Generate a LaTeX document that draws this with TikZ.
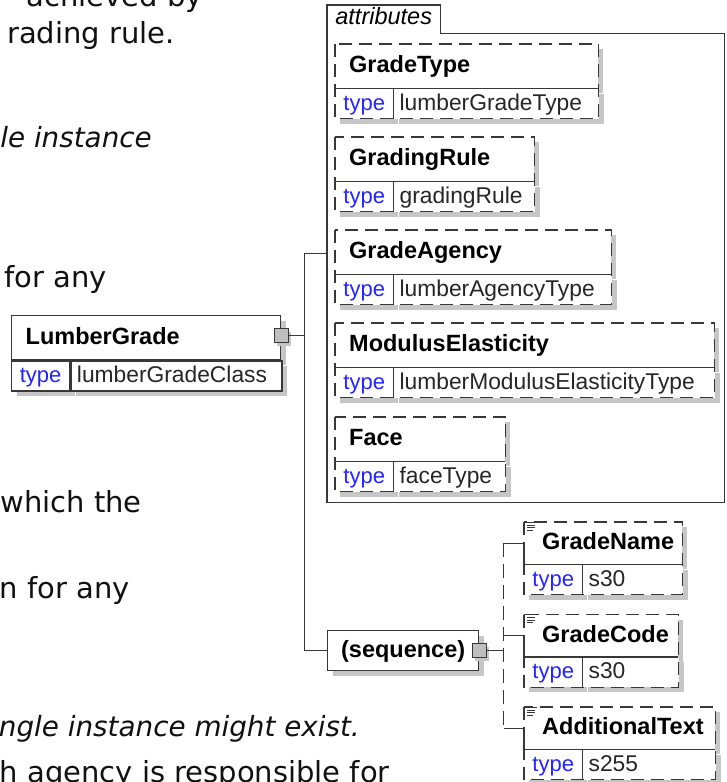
\documentclass[tikz,border=0pt]{standalone}
\usepackage{fontspec}
\usetikzlibrary{shadows}
\newfontfamily\diagfont{Liberation Sans}
\newfontfamily\pagefont{DejaVu Sans}
\definecolor{LineGrey}{HTML}{383838}
\definecolor{ShadowGrey}{HTML}{C6C6C6}
\definecolor{HubGrey}{HTML}{BEBEBE}
\definecolor{TypeBlue}{HTML}{2424FF}
\definecolor{TypeText}{HTML}{262626}
\definecolor{PageText}{HTML}{111111}

\begin{document}
\begin{tikzpicture}[x=1pt, y=-1pt,
    pagetext/.style={anchor=base east, inner sep=0pt, text=PageText, font=\pagefont\fontsize{29}{35}\selectfont},
    pageitalic/.style={pagetext, font=\pagefont\fontsize{27.8}{33}\selectfont\itshape},
    boxshadow/.style={drop shadow={shadow xshift=5pt, shadow yshift=-5pt, fill=ShadowGrey, opacity=1}},
    boxline/.style={draw=LineGrey, line width=1.3pt},
    optborder/.style={boxline, dash pattern=on 13pt off 7pt},
    elemhead/.style={boxshadow, fill=white, anchor=north west, inner xsep=14pt, inner ysep=0pt, minimum height=44pt, align=left, text height=16pt, text depth=3pt, font=\diagfont\fontsize{23.5}{27}\selectfont\bfseries},
    childhead/.style={elemhead, inner xsep=18pt, minimum height=42pt},
    typelabel/.style={boxshadow, fill=white, anchor=north west, inner sep=0pt, minimum width=58pt, minimum height=30pt, text height=16pt, text depth=3pt, text=TypeBlue, font=\diagfont\fontsize{22}{26}\selectfont},
    typevalue/.style={boxshadow, fill=white, anchor=north west, inner xsep=6pt, inner ysep=0pt, minimum height=30pt, align=left, text height=16pt, text depth=3pt, text=TypeText, font=\diagfont\fontsize{22.8}{26}\selectfont},
    solidbox/.style={boxline},
    seqbox/.style={boxshadow, fill=white, boxline, anchor=north west, minimum width=151pt, minimum height=40pt, text height=16pt, text depth=3pt, font=\diagfont\fontsize{23.5}{27}\selectfont\bfseries},
    hubsq/.style={drop shadow={shadow xshift=3pt, shadow yshift=-3pt, fill=ShadowGrey, opacity=1}, fill=HubGrey, draw=LineGrey, line width=1pt, minimum size=14pt, inner sep=0pt},
    attrtab/.style={anchor=north west, inner sep=0pt, minimum width=113pt, minimum height=28pt, text height=15pt, text depth=4pt, font=\diagfont\fontsize{23.5}{27}\selectfont\itshape},
    link/.style={draw=LineGrey, line width=1.3pt},
    iconline/.style={draw=LineGrey, line width=0.9pt}
]

\useasboundingbox (0,0) rectangle (726,782);
\clip (0,0) rectangle (726,782);

% text of the page behind the diagram
\node[pagetext] (note1) at (203,6) {achieved by};
\node[pagetext] (note2) at (175,43) {rading rule.};
\node[pageitalic] (note3) at (152,147) {le instance};
\node[pagetext] (note4) at (107,287) {for any};
\node[pagetext] (note5) at (142,512) {which the};
\node[pagetext] (note6) at (130,598) {n for any};
\node[pageitalic] (note7) at (360,736) {ngle instance might exist.};
\node[pagetext] (note8) at (390,782) {h agency is responsible for};

% attributes frame
\node[anchor=north west, inner sep=0pt, minimum width=397pt, minimum height=497pt] (attrs) at (327,5) {};
\node[attrtab] (attrtab) at (attrs.north west) {attributes};
\draw[boxline] (attrs.south west) -- (attrs.north west) -- (attrtab.north east) -- (attrtab.south east)
    -- (attrtab.south east -| attrs.east) -- (attrs.south east) -- cycle;

\node[elemhead, text width=235pt] (gtype) at (335,44) {GradeType};
\node[typelabel] (gtypet) at (gtype.south west) {type};
\node[typevalue, text width=193pt] (gtypev) at (gtypet.north east) {lumberGradeType};
\draw[optborder] (gtype.north west) rectangle (gtypev.south east);
\draw[boxline] (gtype.south west) -- (gtype.south east) (gtypet.north east) -- (gtypet.south east);

\node[elemhead, text width=171pt] (grule) at (335,137) {GradingRule};
\node[typelabel] (grulet) at (grule.south west) {type};
\node[typevalue, text width=129pt] (grulev) at (grulet.north east) {gradingRule};
\draw[optborder] (grule.north west) rectangle (grulev.south east);
\draw[boxline] (grule.south west) -- (grule.south east) (grulet.north east) -- (grulet.south east);

\node[elemhead, text width=248pt] (gagency) at (335,230) {GradeAgency};
\node[typelabel] (gagencyt) at (gagency.south west) {type};
\node[typevalue, text width=206pt] (gagencyv) at (gagencyt.north east) {lumberAgencyType};
\draw[optborder] (gagency.north west) rectangle (gagencyv.south east);
\draw[boxline] (gagency.south west) -- (gagency.south east) (gagencyt.north east) -- (gagencyt.south east);

\node[elemhead, text width=351pt] (modulus) at (335,323) {ModulusElasticity};
\node[typelabel] (modulust) at (modulus.south west) {type};
\node[typevalue, text width=309pt] (modulusv) at (modulust.north east) {lumberModulusElasticityType};
\draw[optborder] (modulus.north west) rectangle (modulusv.south east);
\draw[boxline] (modulus.south west) -- (modulus.south east) (modulust.north east) -- (modulust.south east);

\node[elemhead, text width=142pt] (face) at (335,417) {Face};
\node[typelabel] (facet) at (face.south west) {type};
\node[typevalue, text width=100pt] (facev) at (facet.north east) {faceType};
\draw[optborder] (face.north west) rectangle (facev.south east);
\draw[boxline] (face.south west) -- (face.south east) (facet.north east) -- (facet.south east);

% root element
\node[elemhead, solidbox, text width=241pt] (lgrade) at (11,315) {LumberGrade};
\node[typelabel, solidbox] (lgradet) at (lgrade.south west) {type};
\node[typevalue, solidbox, text width=199pt] (lgradev) at (lgradet.north east) {lumberGradeClass};
\node[hubsq] (lgsq) at ([yshift=2pt]lgrade.east) {};

% sequence
\node[seqbox] (seq) at (327,630) {(sequence)};
\node[hubsq] (seqsq) at (seq.east) {};

\node[childhead, text width=122pt] (gname) at (524,522) {GradeName};
\node[typelabel] (gnamet) at (gname.south west) {type};
\node[typevalue, text width=88pt] (gnamev) at (gnamet.north east) {s30};
\draw[optborder] (gname.north west) rectangle (gnamev.south east);
\draw[boxline] (gname.south west) -- (gname.south east) (gnamet.north east) -- (gnamet.south east);

\node[childhead, text width=118pt] (gcode) at (524,614.5) {GradeCode};
\node[typelabel] (gcodet) at (gcode.south west) {type};
\node[typevalue, text width=84pt] (gcodev) at (gcodet.north east) {s30};
\draw[optborder] (gcode.north west) rectangle (gcodev.south east);
\draw[boxline] (gcode.south west) -- (gcode.south east) (gcodet.north east) -- (gcodet.south east);

\node[childhead, text width=155pt] (atext) at (524,707) {AdditionalText};
\node[typelabel] (atextt) at (atext.south west) {type};
\node[typevalue, text width=121pt] (atextv) at (atextt.north east) {s255};
\draw[optborder] (atext.north west) rectangle (atextv.south east);
\draw[boxline] (atext.south west) -- (atext.south east) (atextt.north east) -- (atextt.south east);

% documentation marks
\draw[iconline] (gname.north west) -- ++(13,0) (gname.north west) -- ++(0,8)
    ([shift={(3,3)}]gname.north west) -- ++(8,0) ([shift={(3,5.5)}]gname.north west) -- ++(8,0) ([shift={(3,8)}]gname.north west) -- ++(6,0);
\draw[iconline] (gcode.north west) -- ++(13,0) (gcode.north west) -- ++(0,8)
    ([shift={(3,3)}]gcode.north west) -- ++(8,0) ([shift={(3,5.5)}]gcode.north west) -- ++(8,0) ([shift={(3,8)}]gcode.north west) -- ++(6,0);
\draw[iconline] (atext.north west) -- ++(13,0) (atext.north west) -- ++(0,8)
    ([shift={(3,3)}]atext.north west) -- ++(8,0) ([shift={(3,5.5)}]atext.north west) -- ++(8,0) ([shift={(3,8)}]atext.north west) -- ++(6,0);

% connectors
\coordinate (bus) at ([xshift=16pt]lgsq.east);
\draw[link] (lgsq.east) -- (bus) |- (attrs.west);
\draw[link] (bus) |- (seq.west);

\coordinate (seqbus) at ([xshift=17pt]seqsq.east);
\draw[link] (seqsq.east) -- (seqbus);
\draw[link, dash pattern=on 14pt off 7pt] (seqbus |- gname.west) -- (seqbus |- atext.west);
\draw[link] (seqbus |- gname.west) -- (gname.west) -- (gname.south west);
\draw[link] (seqbus |- gcode.west) -- (gcode.west) -- (gcode.south west);
\draw[link] (seqbus |- atext.west) -- (atext.west) -- (atext.south west);

\end{tikzpicture}
\end{document}
